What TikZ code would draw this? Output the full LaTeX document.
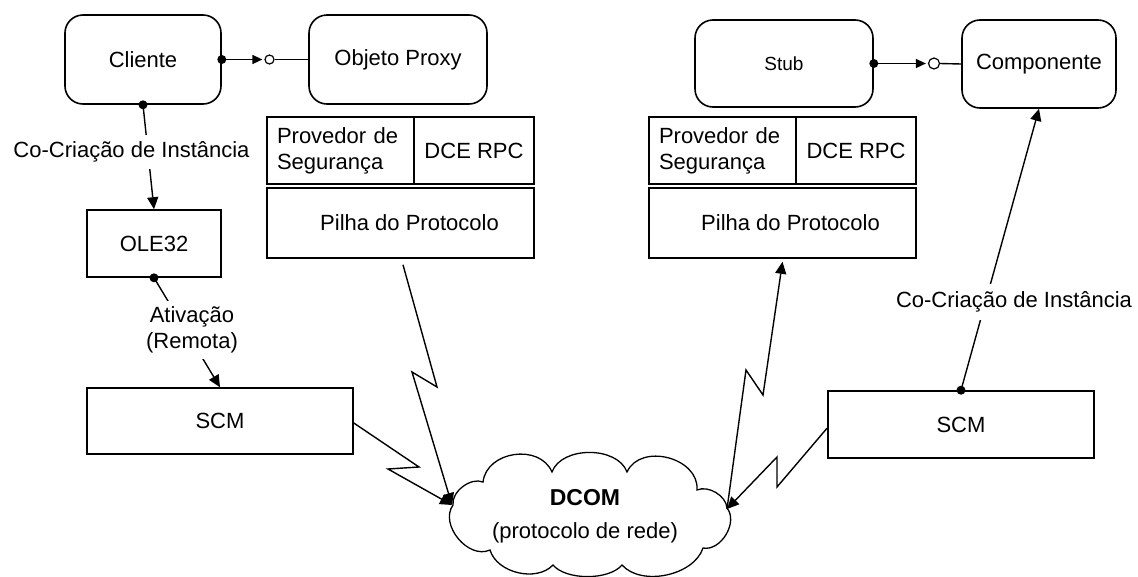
\documentclass[tikz,border=0pt]{standalone}
\usepackage{fontspec}
\setmainfont{Liberation Sans}
\usetikzlibrary{arrows.meta,calc}
\begin{document}
\begin{tikzpicture}[x=1pt,y=-1pt,line width=1.4pt,
  every node/.style={font=\fontsize{22}{26}\selectfont},
  rbox/.style={draw,rounded corners=18pt,line width=1.6pt},
  sbox/.style={draw,line width=1.6pt},
  tip/.style={-{Triangle[length=12pt,width=11pt]}},
  smalltip/.style={-{Triangle[length=10pt,width=9pt]}},
  lbl/.style={fill=white,inner xsep=2pt,inner ysep=7pt},
  ifc/.style={draw,circle,inner sep=0pt,line width=1.2pt},
  dot/.style={fill=black}]
\useasboundingbox (0,0) rectangle (1138,576);

% --- client side ---
\node[rbox,minimum width=156pt,minimum height=89pt] (cliente) at (143,59.5) {Cliente};
\node[rbox,minimum width=178pt,minimum height=89pt] (proxy) at (398,59.5) {Objeto Proxy};
\node[sbox,minimum width=147pt,minimum height=67pt,text width=127pt,align=left] (secL) at (340.5,150.5) {Provedor de\\Segurança};
\node[sbox,minimum width=120pt,minimum height=67pt] (rpcL) at (474,150.5) {DCE RPC};
\node[sbox,minimum width=267pt,minimum height=70pt] (pilhaL) at (400.5,223) {\hspace*{18pt}Pilha do Protocolo};
\node[sbox,minimum width=134pt,minimum height=67pt] (ole) at (154,243.5) {OLE32};
\node[sbox,minimum width=266pt,minimum height=66pt] (scmL) at (220,421) {SCM};

% --- server side ---
\node[rbox,minimum width=178pt,minimum height=87pt,font=\fontsize{19}{22}\selectfont] (stub) at (784,63.5) {Stub};
\node[rbox,minimum width=154pt,minimum height=88pt] (comp) at (1039,64) {Componente};
\node[sbox,minimum width=147pt,minimum height=67pt,text width=127pt,align=left] (secR) at (722.5,150.5) {Provedor de\\Segurança};
\node[sbox,minimum width=120pt,minimum height=67pt] (rpcR) at (856,150.5) {DCE RPC};
\node[sbox,minimum width=267pt,minimum height=70pt] (pilhaR) at (782.5,223) {\hspace*{16pt}Pilha do Protocolo};
\node[sbox,minimum width=266pt,minimum height=67pt] (scmR) at (961,424.5) {SCM};

% --- network cloud ---
\draw[line width=1.3pt,fill=white]
  (453,505) to[bend left=60,looseness=0.9] (483,482)
  to[bend left=75,looseness=1.15] (552,472)
  to[bend left=70,looseness=0.95] (627,472)
  to[bend left=80,looseness=1.15] (697,490)
  to[bend left=55,looseness=0.9] (727,508)
  to[bend left=70,looseness=1.0] (703,548)
  to[bend left=60,looseness=0.9] (622,565)
  to[bend left=50,looseness=0.75] (553,565)
  to[bend left=60,looseness=0.95] (490,550)
  to[bend left=75,looseness=1.05] cycle;
\node[font=\fontsize{23}{26}\selectfont\bfseries] (dcom) at (585,498) {DCOM};
\node (proto) at (585,533) {(protocolo de rede)};
\coordinate (cl) at (452,505);
\coordinate (cr) at (727,509);

% --- interface connectors ---
\node[ifc,minimum size=9pt] (ifA) at (269.5,59.5) {};
\fill[dot] (cliente.east) circle (4.5pt);
\draw[smalltip,shorten >=2pt] (cliente.east) -- (ifA.west);
\draw (ifA.east) -- (proxy.west);

\node[ifc,minimum size=11pt] (ifB) at (934,63.5) {};
\fill[dot] (stub.east) circle (4.5pt);
\draw[smalltip,shorten >=2pt] (stub.east) -- (ifB.west);
\draw (ifB.east) -- (comp.west);

% --- activation connectors ---
\fill[dot] (cliente.south) circle (4.5pt);
\draw[tip] (cliente.south) -- (ole.north);
\node[lbl] (lblA) at (131.5,152) {Co-Criação de Instância};

\fill[dot] (ole.south) circle (4.5pt);
\draw[tip] (ole.south) -- (scmL.north);
\node[lbl,align=center,inner ysep=6pt] (lblB) at (192,330) {Ativação\\(Remota)};

\fill[dot] (scmR.north) circle (4.5pt);
\draw[tip] (scmR.north) -- (comp.south);
\node[lbl,inner ysep=8pt] (lblC) at (1014,302) {Co-Criação de Instância};

% --- network links (lightning) ---
\draw[tip] ($(pilhaL.south)+(2.5,6)$) -- (437,387) -- (412,372) -- (cl);
\draw[tip] ($(scmL.east)+(0,2)$) -- (419,467) -- (388,469) -- (cl);
\draw[tip] (cr) -- (746,370) -- (763,395) -- ($(pilhaR.south)+(0,3)$);
\draw[tip] ($(scmR.west)+(0,3.5)$) -- (777,487) -- (777,457) -- (cr);
\end{tikzpicture}
\end{document}
